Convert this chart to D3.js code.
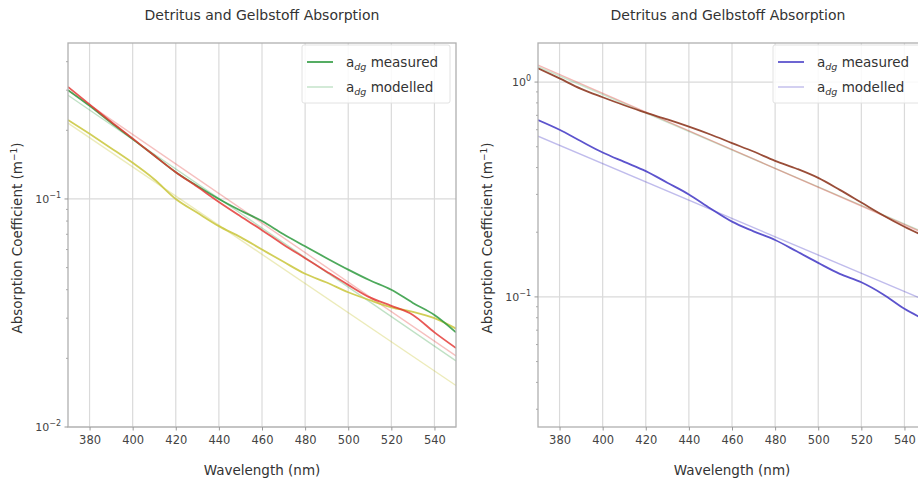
<!DOCTYPE html>
<html>
<head>
<meta charset="utf-8">
<script src="https://cdn.jsdelivr.net/npm/d3@7"></script>
<style>
  body { margin: 0; background: #fff; }
  svg { display: block; font-family: "DejaVu Sans", sans-serif; }
</style>
</head>
<body>
<div id="chart"></div>
<script>
// wavelengths for the measured spectra (nm)
const wavelengths = [370, 380, 390, 400, 410, 420, 430, 440, 450, 460, 470, 480, 490, 500, 510, 520, 530, 540, 550];
const modelWavelengths = [370, 550];

// left panel
const leftGreenMeasured = [0.300, 0.256, 0.216, 0.183, 0.155, 0.131, 0.114, 0.100, 0.089, 0.080, 0.070, 0.062, 0.055, 0.049, 0.044, 0.040, 0.035, 0.031, 0.026];
const leftRedMeasured = [0.310, 0.260, 0.218, 0.184, 0.155, 0.131, 0.113, 0.097, 0.084, 0.073, 0.063, 0.055, 0.048, 0.042, 0.037, 0.034, 0.031, 0.026, 0.0222];
const leftYellowMeasured = [0.222, 0.193, 0.167, 0.144, 0.122, 0.100, 0.087, 0.076, 0.068, 0.060, 0.053, 0.047, 0.043, 0.039, 0.036, 0.0335, 0.032, 0.030, 0.027];
const leftGreenModel = [0.285, 0.0195];
const leftRedModel = [0.300, 0.0205];
const leftYellowModel = [0.215, 0.0152];

// right panel
const rightBlueMeasured = [0.666, 0.600, 0.530, 0.470, 0.425, 0.385, 0.340, 0.300, 0.258, 0.224, 0.202, 0.184, 0.163, 0.144, 0.128, 0.117, 0.103, 0.088, 0.078];
const rightBrownMeasured = [1.160, 1.040, 0.930, 0.850, 0.780, 0.720, 0.670, 0.620, 0.570, 0.520, 0.475, 0.430, 0.395, 0.358, 0.315, 0.275, 0.240, 0.212, 0.190];
const rightBlueModel = [0.560, 0.096];
const rightRedModel = [1.200, 0.196];
const rightGreenModel = [1.180, 0.198];

const xTicks = [380, 400, 420, 440, 460, 480, 500, 520, 540];

const svg = d3.select("#chart").append("svg")
    .attr("width", 918)
    .attr("height", 483);

function drawPanel(p) {
    const w = p.x1 - p.x0, h = p.y1 - p.y0;
    const g = svg.append("g").attr("transform", `translate(${p.x0},${p.y0})`);

    const x = d3.scaleLinear().domain([370, 550]).range([0, w]);
    const y = d3.scaleLog().domain(p.yDomain).range([h, 0]);

    // clip for lines
    const clipId = "clip-" + p.id;
    svg.append("defs").append("clipPath").attr("id", clipId)
        .append("rect").attr("width", w).attr("height", h);

    // grid
    g.append("g")
        .selectAll("line")
        .data(xTicks)
        .join("line")
        .attr("x1", d => x(d)).attr("x2", d => x(d))
        .attr("y1", 0).attr("y2", h)
        .attr("stroke", "#dadada").attr("stroke-width", 1.2);

    g.append("g")
        .selectAll("line")
        .data(p.yMajor)
        .join("line")
        .attr("x1", 0).attr("x2", w)
        .attr("y1", d => y(d)).attr("y2", d => y(d))
        .attr("stroke", "#dadada").attr("stroke-width", 1.2);

    // lines
    const line = d3.line()
        .x(d => x(d[0]))
        .y(d => y(d[1]))
        .curve(d3.curveMonotoneX);

    const lines = g.append("g").attr("clip-path", `url(#${clipId})`);
    p.series.forEach(s => {
        const pts = s.x.map((v, i) => [v, s.y[i]]);
        lines.append("path")
            .datum(pts)
            .attr("fill", "none")
            .attr("stroke", s.color)
            .attr("stroke-opacity", s.opacity)
            .attr("stroke-width", s.width)
            .attr("d", line);
    });

    // frame
    g.append("rect")
        .attr("width", w).attr("height", h)
        .attr("fill", "none")
        .attr("stroke", "#b0b0b0")
        .attr("stroke-width", 1.3);

    // x axis
    const xAxis = g.append("g")
        .attr("transform", `translate(0,${h})`)
        .call(d3.axisBottom(x).tickValues(xTicks).tickSize(3.5).tickPadding(5).tickFormat(d3.format("d")));
    xAxis.select(".domain").remove();
    xAxis.selectAll("line").attr("stroke", "#999");
    xAxis.selectAll("text")
        .attr("fill", "#444")
        .style("font-size", "11.5px")
        .style("font-family", "DejaVu Sans");

    // y major ticks with 10^n labels
    const yt = g.append("g");
    p.yMajor.forEach(v => {
        const e = Math.round(Math.log10(v));
        yt.append("line")
            .attr("x1", -3.5).attr("x2", 0)
            .attr("y1", y(v)).attr("y2", y(v))
            .attr("stroke", "#999");
        const t = yt.append("text")
            .attr("x", -7).attr("y", y(v) + 4)
            .attr("text-anchor", "end")
            .attr("fill", "#444")
            .style("font-size", "11px");
        t.append("tspan").text("10");
        t.append("tspan").attr("dy", -5).style("font-size", "8px").text(e === 0 ? "0" : "\u2212" + Math.abs(e));
    });
    // minor ticks
    const minor = [];
    const [lo, hi] = p.yDomain;
    for (let e = Math.floor(Math.log10(lo)); e <= Math.ceil(Math.log10(hi)); e++) {
        for (let m = 2; m <= 9; m++) {
            const v = m * Math.pow(10, e);
            if (v > lo && v < hi) minor.push(v);
        }
    }
    yt.selectAll("line.minor")
        .data(minor)
        .join("line")
        .attr("x1", -2).attr("x2", 0)
        .attr("y1", d => y(d)).attr("y2", d => y(d))
        .attr("stroke", "#aaa");

    // title and labels
    g.append("text")
        .attr("x", p.titleX - p.x0).attr("y", 20 - p.y0)
        .attr("text-anchor", "middle")
        .attr("fill", "#333")
        .style("font-size", "14px")
        .text("Detritus and Gelbstoff Absorption");

    g.append("text")
        .attr("x", w / 2).attr("y", h + 48)
        .attr("text-anchor", "middle")
        .attr("fill", "#333")
        .style("font-size", "13.5px")
        .text("Wavelength (nm)");

    const yl = g.append("text")
        .attr("transform", `translate(${p.yLabelX - p.x0},${h / 2 + 3}) rotate(-90)`)
        .attr("text-anchor", "middle")
        .attr("fill", "#333")
        .style("font-size", "13.5px");
    yl.append("tspan").text("Absorption Coefficient (m");
    yl.append("tspan").attr("dy", -5).style("font-size", "9px").text("\u22121");
    yl.append("tspan").attr("dy", 5).text(")");

    // legend
    const lg = g.append("g").attr("transform", `translate(${p.legX - p.x0},${45 - p.y0})`);
    lg.append("rect")
        .attr("width", p.legW).attr("height", 58)
        .attr("rx", 2)
        .attr("fill", "#fff").attr("fill-opacity", 0.85)
        .attr("stroke", "#e2e2e2");
    p.legend.forEach((d, i) => {
        const yy = 17 + i * 25;
        lg.append("line")
            .attr("x1", 5).attr("x2", 31)
            .attr("y1", yy).attr("y2", yy)
            .attr("stroke", d.color)
            .attr("stroke-opacity", d.opacity)
            .attr("stroke-width", d.width);
        const t = lg.append("text")
            .attr("x", 44).attr("y", yy + 5)
            .attr("fill", "#333")
            .style("font-size", "13.5px");
        t.append("tspan").text("a");
        t.append("tspan").attr("dy", 3).style("font-size", "9.5px").style("font-style", "italic").text("dg");
        t.append("tspan").attr("dy", -3).text(" " + d.label);
    });
}

const green = "#2e9a3e", red = "#e2302c", yellow = "#c9c63a", blue = "#4a40c8", brown = "#8e3a22";

drawPanel({
    id: "left",
    x0: 68, x1: 456, y0: 43, y1: 427,
    yDomain: [0.01, 0.483],
    yMajor: [0.01, 0.1],
    titleX: 262, yLabelX: 22,
    legX: 302, legW: 148,
    series: [
        { x: modelWavelengths, y: leftYellowModel, color: yellow, opacity: 0.35, width: 1.4 },
        { x: modelWavelengths, y: leftGreenModel, color: green, opacity: 0.3, width: 1.4 },
        { x: modelWavelengths, y: leftRedModel, color: red, opacity: 0.3, width: 1.4 },
        { x: wavelengths, y: leftYellowMeasured, color: yellow, opacity: 0.85, width: 1.8 },
        { x: wavelengths, y: leftGreenMeasured, color: green, opacity: 0.85, width: 1.8 },
        { x: wavelengths, y: leftRedMeasured, color: red, opacity: 0.8, width: 1.8 }
    ],
    legend: [
        { label: "measured", color: green, opacity: 0.9, width: 1.8 },
        { label: "modelled", color: green, opacity: 0.3, width: 1.4 }
    ]
});

drawPanel({
    id: "right",
    x0: 538, x1: 926, y0: 43, y1: 427,
    yDomain: [0.0248, 1.52],
    yMajor: [0.1, 1],
    titleX: 728, yLabelX: 492,
    legX: 773, legW: 160,
    series: [
        { x: modelWavelengths, y: rightBlueModel, color: blue, opacity: 0.35, width: 1.4 },
        { x: modelWavelengths, y: rightGreenModel, color: green, opacity: 0.25, width: 1.4 },
        { x: modelWavelengths, y: rightRedModel, color: red, opacity: 0.35, width: 1.4 },
        { x: wavelengths, y: rightBlueMeasured, color: blue, opacity: 0.9, width: 1.8 },
        { x: wavelengths, y: rightBrownMeasured, color: brown, opacity: 0.9, width: 1.8 }
    ],
    legend: [
        { label: "measured", color: blue, opacity: 0.9, width: 1.8 },
        { label: "modelled", color: blue, opacity: 0.35, width: 1.4 }
    ]
});
</script>
</body>
</html>
